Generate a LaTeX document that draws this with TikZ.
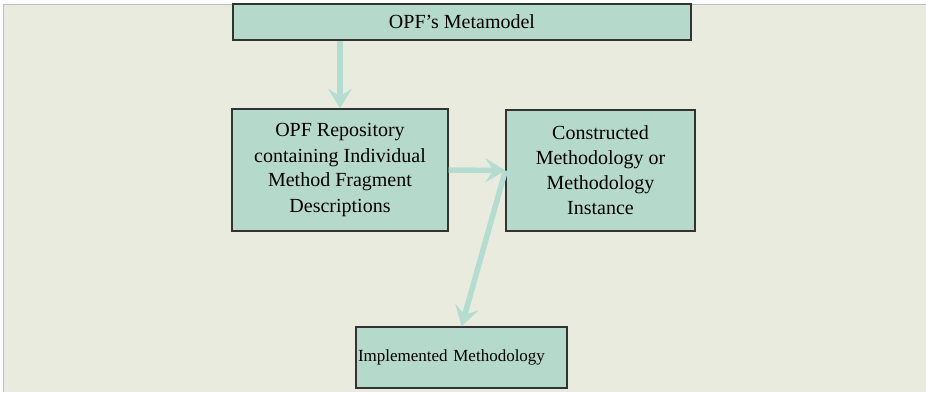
\documentclass[tikz,border=0pt]{standalone}
\usepackage{fontspec}
\setmainfont{Liberation Serif}
\usetikzlibrary{arrows.meta}
\definecolor{boxfill}{RGB}{181,218,204}
\definecolor{arrowcol}{RGB}{180,220,208}
\definecolor{paper}{RGB}{234,235,223}
\tikzset{>={Stealth[length=20pt,width=24pt,inset=8pt]}}
\tikzset{opfbox/.style={draw=black!80, line width=1.2pt, fill=boxfill, align=center, inner sep=0pt, font=\fontsize{20}{25}\selectfont}}
\tikzset{flow/.style={->, arrowcol, line width=5.5pt}}

\begin{document}
\begin{tikzpicture}[x=1pt,y=-1pt]
\useasboundingbox (0,0) rectangle (926,392);
\fill[paper] (3,4) rectangle (926,392);
\draw[black!25, line width=0.6pt] (3,392) -- (3,4) -- (926,4);
\node[opfbox, minimum width=458pt, minimum height=36pt] (meta) at (462,22) {OPF's Metamodel};
\node[opfbox, minimum width=216pt, minimum height=122pt] (repo) at (340,170) {OPF Repository\\containing Individual\\Method Fragment\\Descriptions};
\node[opfbox, minimum width=189pt, minimum height=121pt] (cmi) at (600.5,170.5) {Constructed\\Methodology or\\Methodology\\Instance};
\node[opfbox, minimum width=211pt, minimum height=61pt, text width=207pt, align=left, font=\fontsize{17}{20}\selectfont] (impl) at (461.5,357.5) {Implemented Methodology};
\draw[flow] (repo.north |- meta.south) -- (repo.north);
\draw[flow] (repo.east) -- (cmi.west);
\draw[flow] (cmi.west) -- (impl.north);
\end{tikzpicture}
\end{document}
